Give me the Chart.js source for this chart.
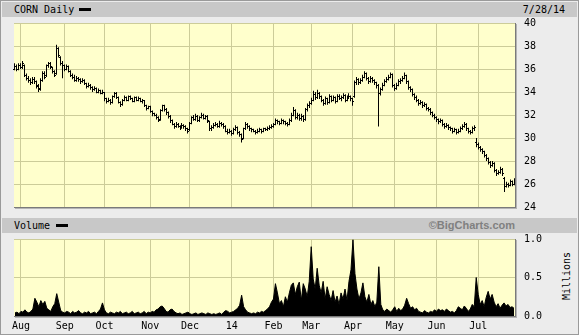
<!DOCTYPE html>
<html><head><meta charset="utf-8">
<script src="https://cdn.jsdelivr.net/npm/chart.js@4.4.1/dist/chart.umd.min.js"></script>
<style>
html,body{margin:0;padding:0;background:#ececec;}
#wrap{position:relative;width:579px;height:335px;background:#ececec;overflow:hidden;font-family:'DejaVu Sans Mono',monospace;font-size:10px;color:#000;}
.band{position:absolute;left:2px;right:2px;height:15px;background:#c8c8c8;}
.txt{position:absolute;line-height:15px;white-space:nowrap;}
.dash{position:absolute;background:#000;height:3px;width:12px;}
canvas{position:absolute;left:0;}
#frame{position:absolute;left:0;top:0;width:579px;height:335px;box-sizing:border-box;border:1px solid #9a9a9a;pointer-events:none;}
#bc{font-family:'Liberation Sans',Arial,sans-serif;font-weight:bold;font-size:11px;color:#808080;}
#mil{position:absolute;left:566px;top:276px;transform:translate(-50%,-50%) rotate(-90deg);white-space:nowrap;}
</style></head>
<body>
<div id="wrap">
  <div class="band" style="top:2px"></div>
  <div class="txt" style="left:14px;top:2px">CORN Daily</div>
  <div class="dash" style="left:79px;top:8px"></div>
  <div class="txt" style="right:14px;top:2px">7/28/14</div>
  <div class="band" style="top:218px"></div>
  <div class="txt" style="left:14px;top:218px">Volume</div>
  <div class="dash" style="left:56px;top:224px"></div>
  <div class="txt" id="bc" style="right:64px;top:218px">©BigCharts.com</div>
  <div id="mil">Millions</div>
  <canvas id="price" width="579" height="198" style="top:17px;width:579px;height:198px"></canvas>
  <canvas id="vol" width="579" height="102" style="top:233px;width:579px;height:102px"></canvas>
  <div id="frame"></div>
</div>
<script>
const monthLabels = ['Aug','Sep','Oct','Nov','Dec','14','Feb','Mar','Apr','May','Jun','Jul'];
const monthStarts = [3,25,45,68,88,109,130,149,170,191,212,233];
const priceTicks = {min:24, max:40, step:2};
const volumeTicks = {min:0, max:1.0, step:0.5};

const openP = [
36.0,36.2,36.0,36.3,36.1,36.3,35.4,35.2,35.0,34.8,
35.1,34.9,34.6,34.3,35.0,35.6,35.4,36.3,36.5,36.1,
35.8,35.6,37.8,37.0,36.5,36.3,36.0,36.2,35.8,35.4,
35.3,35.0,35.2,35.1,34.9,35.0,34.7,34.5,34.6,34.4,
34.2,34.3,34.0,34.1,33.9,34.0,33.4,33.2,33.3,33.1,
33.6,33.9,33.5,33.1,32.9,33.3,33.5,33.3,33.6,33.4,
33.2,33.5,33.3,33.4,33.2,33.3,32.8,32.6,32.7,32.3,
32.1,32.0,31.8,31.6,32.4,32.8,32.5,32.2,31.9,31.5,
31.2,31.0,31.2,31.0,30.9,31.1,31.0,30.8,30.7,31.3,
31.8,31.6,31.9,31.5,31.8,32.0,31.7,31.9,31.4,30.8,
30.9,31.1,31.2,31.0,31.3,31.2,31.0,30.6,30.5,30.6,
30.4,30.7,30.9,30.5,30.3,30.0,30.8,31.2,31.0,30.8,
30.7,30.6,30.5,30.6,30.7,30.6,30.8,30.7,30.8,30.9,
31.0,31.2,31.5,31.4,31.3,31.5,31.4,31.3,31.2,31.5,
32.0,32.4,31.8,32.0,31.7,31.9,31.6,32.5,32.8,33.0,
33.3,33.8,33.5,33.9,33.6,33.3,33.0,33.4,33.1,33.6,
33.3,33.5,33.2,33.6,33.4,33.5,33.7,33.3,33.5,33.6,
33.4,33.6,34.8,35.1,34.8,35.0,35.3,35.6,35.2,34.9,
35.2,35.0,34.8,34.6,33.9,34.2,34.6,34.9,35.1,35.3,
35.5,34.6,34.3,34.6,34.9,35.0,35.2,35.4,34.9,34.4,
34.2,33.8,33.5,33.3,33.0,33.1,32.8,32.9,32.6,32.5,
32.2,32.0,31.8,31.6,31.4,31.5,31.2,31.0,31.1,30.9,
30.8,30.6,30.7,30.5,30.6,30.8,31.0,31.2,30.8,30.6,
30.5,30.8,29.6,29.4,29.2,29.0,28.8,28.5,28.2,27.9,
27.6,27.8,27.2,26.9,27.0,27.3,26.5,25.8,26.0,25.9,
26.2,26.0];

const highP = [
36.5,36.4,36.5,36.5,36.7,36.4,35.6,35.4,35.2,35.3,
35.3,35.0,34.7,35.2,35.8,35.8,36.4,36.6,36.6,36.2,
35.9,38.1,37.9,37.1,36.7,36.4,36.4,36.3,35.9,35.6,
35.5,35.4,35.3,35.2,35.2,35.1,34.8,34.8,34.7,34.5,
34.5,34.4,34.3,34.2,34.2,34.0,33.5,33.5,33.4,33.7,
34.0,34.0,33.6,33.2,33.4,33.7,33.6,33.7,33.7,33.5,
33.6,33.6,33.6,33.5,33.4,33.3,32.9,32.8,32.8,32.4,
32.2,32.1,31.9,32.5,32.9,32.9,32.6,32.3,32.0,31.6,
31.3,31.4,31.3,31.1,31.3,31.2,31.1,30.9,31.4,31.9,
32.0,32.1,32.0,31.9,32.2,32.1,32.0,32.0,31.5,31.1,
31.3,31.4,31.3,31.5,31.4,31.3,31.1,30.8,30.8,30.7,
30.9,31.1,31.0,30.6,30.4,30.9,31.4,31.3,31.1,30.9,
30.8,30.7,30.8,30.9,30.8,30.9,30.9,31.0,31.1,31.2,
31.3,31.7,31.6,31.5,31.7,31.6,31.5,31.4,31.7,32.2,
32.7,32.5,32.2,32.1,32.1,32.0,32.6,33.0,33.2,33.5,
34.1,34.0,34.2,34.0,33.7,33.4,33.6,33.5,33.8,33.7,
33.7,33.6,33.8,33.8,33.7,33.9,33.8,33.7,33.9,33.7,
33.5,35.0,35.3,35.2,35.2,35.5,35.8,35.7,35.3,35.4,
35.3,35.1,34.9,34.7,34.4,34.8,35.1,35.3,35.5,35.7,
35.6,34.7,34.8,35.1,35.2,35.4,35.7,35.5,35.0,34.5,
34.3,33.9,33.7,33.4,33.3,33.2,33.1,33.0,32.7,32.6,
32.3,32.1,31.9,31.7,31.7,31.6,31.3,31.3,31.2,31.0,
30.9,30.9,30.8,30.8,31.0,31.2,31.4,31.3,30.9,30.7,
31.0,31.1,30.0,29.6,29.3,29.1,28.9,28.6,28.3,28.0,
28.0,27.9,27.3,27.2,27.5,27.4,26.6,26.2,26.1,26.4,
26.3,26.5];

const lowP = [
35.9,35.8,35.9,36.0,36.0,35.3,35.0,34.8,34.6,34.7,
34.7,34.3,34.0,34.1,34.9,35.1,35.3,36.1,36.0,35.6,
35.3,35.5,37.0,36.3,35.2,35.8,35.9,35.7,35.3,35.1,
34.9,34.9,34.9,34.7,34.8,34.6,34.3,34.4,34.2,34.0,
34.1,33.9,33.9,33.8,33.8,33.2,33.0,33.1,32.9,33.0,
33.5,33.4,33.0,32.7,32.8,33.2,33.2,33.2,33.3,33.1,
33.1,33.2,33.2,33.1,33.0,32.7,32.4,32.5,32.2,31.9,
31.9,31.6,31.4,31.5,32.3,32.3,32.0,31.7,31.3,31.1,
30.8,30.9,30.9,30.7,30.8,30.8,30.6,30.4,30.6,31.2,
31.5,31.5,31.4,31.4,31.7,31.6,31.6,31.3,30.6,30.6,
30.8,31.0,30.9,30.9,31.0,30.8,30.5,30.3,30.4,30.2,
30.3,30.6,30.3,30.1,29.6,29.9,30.7,30.8,30.6,30.5,
30.5,30.3,30.4,30.5,30.4,30.5,30.6,30.6,30.7,30.8,
30.9,31.1,31.2,31.1,31.2,31.2,31.1,31.0,31.1,31.4,
31.9,31.6,31.6,31.5,31.5,31.4,31.5,32.3,32.6,32.9,
33.2,33.3,33.4,33.4,33.1,32.8,32.9,32.9,33.0,33.1,
33.2,33.0,33.1,33.3,33.2,33.4,33.1,33.2,33.4,33.2,
32.8,33.5,34.6,34.6,34.7,34.9,35.2,35.0,34.7,34.8,
34.8,34.6,34.3,31.0,33.7,34.1,34.5,34.8,35.0,35.2,
34.4,34.1,34.2,34.5,34.7,34.9,35.1,34.7,34.2,34.0,
33.6,33.3,33.1,32.8,32.9,32.6,32.7,32.4,32.3,32.0,
31.8,31.6,31.4,31.2,31.3,31.0,30.8,30.9,30.7,30.6,
30.4,30.5,30.3,30.4,30.5,30.7,30.9,30.6,30.4,30.3,
30.4,30.6,29.2,29.0,28.8,28.6,28.3,28.0,27.7,27.4,
27.5,27.0,26.7,26.8,26.9,26.7,25.3,25.7,25.7,25.8,
25.8,25.9];

const closeP = [
36.2,36.0,36.3,36.1,36.5,35.4,35.2,35.0,34.8,35.1,
34.9,34.5,34.2,35.0,35.6,35.3,36.3,36.5,36.2,35.8,
35.4,37.8,37.2,36.5,36.3,36.0,36.2,35.8,35.4,35.3,
35.0,35.2,35.1,34.9,35.0,34.7,34.5,34.6,34.4,34.2,
34.3,34.0,34.1,33.9,34.0,33.4,33.2,33.3,33.1,33.6,
33.9,33.5,33.1,32.9,33.3,33.5,33.3,33.6,33.4,33.2,
33.5,33.3,33.4,33.2,33.3,32.8,32.6,32.7,32.3,32.1,
32.0,31.8,31.5,32.4,32.8,32.5,32.2,31.9,31.5,31.2,
31.0,31.2,31.0,30.9,31.1,31.0,30.8,30.6,31.3,31.8,
31.6,31.9,31.5,31.8,32.0,31.7,31.9,31.5,30.8,30.9,
31.1,31.2,31.0,31.3,31.2,31.0,30.6,30.5,30.6,30.4,
30.7,30.9,30.5,30.3,29.9,30.8,31.2,31.0,30.8,30.7,
30.6,30.5,30.6,30.7,30.6,30.8,30.7,30.8,30.9,31.0,
31.2,31.5,31.4,31.3,31.5,31.4,31.3,31.2,31.5,32.0,
32.4,31.8,32.0,31.7,31.9,31.6,32.5,32.8,33.0,33.3,
33.8,33.5,33.9,33.6,33.3,33.0,33.4,33.1,33.6,33.3,
33.5,33.2,33.6,33.4,33.5,33.7,33.3,33.5,33.6,33.4,
33.2,34.8,35.1,34.8,35.0,35.3,35.6,35.2,34.9,35.2,
35.0,34.8,34.6,33.9,34.2,34.6,34.9,35.1,35.3,35.5,
34.6,34.3,34.6,34.9,35.0,35.2,35.4,34.9,34.4,34.2,
33.8,33.5,33.3,33.0,33.1,32.8,32.9,32.6,32.5,32.2,
32.0,31.8,31.6,31.4,31.5,31.2,31.0,31.1,30.9,30.8,
30.6,30.7,30.5,30.6,30.8,31.0,31.2,30.8,30.6,30.5,
30.8,30.9,29.4,29.2,29.0,28.8,28.5,28.2,27.9,27.6,
27.8,27.2,26.9,27.0,27.3,26.9,25.8,26.0,25.9,26.2,
26.0,26.3];

const volumeM = [
0.04,0.05,0.03,0.06,0.05,0.08,0.05,0.04,0.06,0.09,
0.23,0.18,0.12,0.20,0.15,0.19,0.10,0.08,0.06,0.12,
0.16,0.29,0.18,0.07,0.05,0.04,0.06,0.05,0.03,0.06,
0.04,0.05,0.07,0.04,0.03,0.05,0.04,0.06,0.03,0.04,
0.05,0.03,0.06,0.09,0.17,0.08,0.04,0.03,0.05,0.04,
0.03,0.05,0.04,0.06,0.03,0.04,0.05,0.03,0.04,0.06,
0.03,0.04,0.05,0.03,0.04,0.06,0.03,0.05,0.04,0.06,
0.05,0.08,0.09,0.12,0.13,0.10,0.06,0.05,0.08,0.09,
0.06,0.04,0.03,0.04,0.02,0.03,0.04,0.05,0.03,0.02,
0.03,0.04,0.02,0.03,0.04,0.03,0.02,0.04,0.03,0.02,
0.03,0.02,0.03,0.04,0.02,0.05,0.07,0.06,0.04,0.05,
0.06,0.08,0.10,0.14,0.27,0.12,0.08,0.05,0.04,0.03,
0.04,0.03,0.05,0.04,0.06,0.05,0.07,0.09,0.12,0.18,
0.22,0.42,0.30,0.16,0.20,0.12,0.25,0.18,0.30,0.40,
0.43,0.28,0.38,0.44,0.20,0.42,0.35,0.25,0.45,0.90,
0.48,0.35,0.62,0.40,0.30,0.45,0.22,0.38,0.28,0.20,
0.33,0.18,0.26,0.15,0.30,0.22,0.35,0.20,0.45,0.60,
0.99,0.55,0.35,0.22,0.30,0.43,0.25,0.18,0.28,0.15,
0.20,0.12,0.18,0.64,0.15,0.08,0.06,0.09,0.07,0.05,
0.08,0.12,0.06,0.10,0.07,0.09,0.14,0.23,0.16,0.10,
0.12,0.08,0.10,0.06,0.05,0.04,0.07,0.05,0.04,0.06,
0.05,0.08,0.06,0.09,0.07,0.08,0.06,0.09,0.07,0.05,
0.06,0.04,0.07,0.12,0.10,0.08,0.13,0.10,0.06,0.09,
0.15,0.12,0.50,0.28,0.15,0.20,0.12,0.24,0.32,0.22,
0.28,0.18,0.12,0.16,0.10,0.14,0.17,0.13,0.15,0.11,
0.12,0.10];

const days = closeP.map((_, i) => i);
const FONT = {family: "'DejaVu Sans Mono', monospace", size: 10};
const GRID = '#cccc99';
const PLOT_BG = '#ffffcc';

const panelPlugin = {
  id: 'panel',
  beforeDraw(chart) {
    const a = chart.chartArea, ctx = chart.ctx;
    ctx.save();
    ctx.fillStyle = PLOT_BG;
    ctx.fillRect(a.left, a.top, a.right - a.left, a.bottom - a.top);
    ctx.restore();
  },
  afterDraw(chart) {
    const a = chart.chartArea, ctx = chart.ctx;
    ctx.save();
    ctx.fillStyle = '#7a7a7a';
    ctx.fillRect(Math.round(a.right), Math.round(a.top), 1, Math.round(a.bottom - a.top) + 1);
    ctx.fillRect(Math.round(a.left), Math.round(a.bottom), Math.round(a.right - a.left) + 1, 1);
    ctx.fillStyle = '#b4b4b4';
    ctx.fillRect(Math.round(a.right) + 1, Math.round(a.top) + 1, 1, Math.round(a.bottom - a.top) + 1);
    ctx.fillRect(Math.round(a.left) + 1, Math.round(a.bottom) + 1, Math.round(a.right - a.left) + 1, 1);
    ctx.restore();
  }
};

// snap the high-low bars to whole pixels and add open/close ticks via the scales
const ohlcPlugin = {
  id: 'ohlc',
  beforeDatasetsDraw(chart) {
    chart.getDatasetMeta(0).data.forEach(el => { el.x = Math.floor(el.x) + 0.5; });
  },
  afterDatasetsDraw(chart) {
    const xs = chart.scales.x, ys = chart.scales.y, ctx = chart.ctx;
    ctx.save();
    ctx.fillStyle = '#000';
    days.forEach(i => {
      const px = Math.floor(xs.getPixelForValue(i));
      ctx.fillRect(px - 1, Math.round(ys.getPixelForValue(openP[i]) - 0.5), 1, 1);
      ctx.fillRect(px + 1, Math.round(ys.getPixelForValue(closeP[i]) - 0.5), 1, 1);
    });
    ctx.restore();
  }
};

function xAxis(showLabels, height) {
  return {
    type: 'category',
    offset: true,
    grid: {offset: false, color: GRID, drawTicks: false, lineWidth: 1},
    border: {display: false},
    ticks: {
      display: showLabels, autoSkip: false, maxRotation: 0, minRotation: 0,
      padding: 4, color: '#000', font: FONT,
      callback: v => monthLabels[monthStarts.indexOf(v)]
    },
    afterBuildTicks: s => { s.ticks = monthStarts.map(v => ({value: v})); },
    afterFit: s => { s.height = height; s.paddingLeft = 0; s.paddingRight = 0; }
  };
}

function yAxis(t, cb) {
  const ticks = {stepSize: t.step, padding: 9, color: '#000', font: FONT};
  if (cb) ticks.callback = cb;
  return {
    position: 'right', min: t.min, max: t.max,
    ticks,
    grid: {color: GRID, drawTicks: false},
    border: {display: false},
    afterFit: s => { s.width = 64; s.paddingTop = 6; s.paddingBottom = 6; }
  };
}

new Chart(document.getElementById('price'), {
  type: 'bar',
  data: {
    labels: days,
    datasets: [{
      data: highP.map((h, i) => [lowP[i], h]),
      backgroundColor: '#000',
      borderWidth: 0,
      inflateAmount: 0,
      barThickness: 1
    }]
  },
  options: {
    animation: false, responsive: false, maintainAspectRatio: false,
    layout: {padding: {left: 14, top: 6, right: 0, bottom: 0}},
    plugins: {legend: {display: false}, tooltip: {enabled: false}},
    scales: {
      x: xAxis(false, 8),
      y: yAxis(priceTicks)
    }
  },
  plugins: [panelPlugin, ohlcPlugin]
});

new Chart(document.getElementById('vol'), {
  type: 'line',
  data: {
    labels: days,
    datasets: [{
      data: volumeM,
      borderColor: '#000', backgroundColor: '#000', borderWidth: 1,
      pointRadius: 0, tension: 0, fill: 'origin'
    }]
  },
  options: {
    animation: false, responsive: false, maintainAspectRatio: false,
    layout: {padding: {left: 14, top: 6, right: 0, bottom: 0}},
    plugins: {legend: {display: false}, tooltip: {enabled: false}},
    scales: {
      x: xAxis(true, 19),
      y: yAxis(volumeTicks, v => Number(v).toFixed(1))
    }
  },
  plugins: [panelPlugin]
});
</script>
</body></html>
